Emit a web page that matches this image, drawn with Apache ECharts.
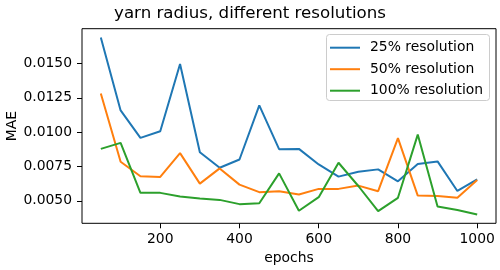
<!DOCTYPE html>
<html><head><meta charset="utf-8">
<script src="https://cdn.jsdelivr.net/npm/echarts@6/dist/echarts.min.js"></script>
<style>html,body{margin:0;padding:0;background:#fff}#c{width:500px;height:270px}</style>
</head><body><div id="c"></div>
<script>
const epochs = [50,100,150,200,250,300,350,400,450,500,550,600,650,700,750,800,850,900,950,1000];
const res25 = [0.01688,0.01158,0.00958,0.01006,0.01496,0.00854,0.00741,0.00801,0.01194,0.00876,0.00878,0.00765,0.00676,0.00712,0.00729,0.00642,0.00768,0.00787,0.00572,0.00657];
const res50 = [0.01281,0.00784,0.00679,0.00674,0.00847,0.00625,0.00736,0.00618,0.00563,0.00570,0.00546,0.00587,0.00587,0.00611,0.00570,0.00956,0.00538,0.00536,0.00522,0.00652];
const res100 = [0.00878,0.00922,0.00558,0.00558,0.00531,0.00517,0.00507,0.00476,0.00483,0.00700,0.00428,0.00527,0.00777,0.00608,0.00425,0.00522,0.00982,0.00459,0.00433,0.00401];
const seriesNames = ['25% resolution','50% resolution','100% resolution'];
const xTicks = [200,400,600,800,1000];
const yTicks = [0.005,0.0075,0.01,0.0125,0.015];
const colors = ['#1f77b4','#ff7f0e','#2ca02c'];
const titleText = 'yarn radius, different resolutions';

const FONT = 'DejaVu Sans';
const FS = 13.9;
const allVals = res25.concat(res50, res100);
const yMinD = Math.min(...allVals), yMaxD = Math.max(...allVals);
const yPad = (yMaxD - yMinD) * 0.05;
const xPad = (epochs[epochs.length-1] - epochs[0]) * 0.05;

const chart = echarts.init(document.getElementById('c'), null, {renderer:'canvas'});
const mk = (name, vals, i) => ({
  name, type:'line', data: epochs.map((e,k)=>[e, vals[k]]),
  symbol:'none', lineStyle:{color:colors[i], width:2}, itemStyle:{color:colors[i]},
  emphasis:{disabled:true}, animation:false, z: 2 + i
});
chart.setOption({
  animation:false,
  backgroundColor:'#fff',
  title:{text:titleText, left:'center', top:0, textStyle:{fontFamily:FONT, fontSize:16.67, fontWeight:'normal', color:'#000'}},
  grid:{left:82, right:4, top:28.7, bottom:46.7, containLabel:false, outerBoundsMode:'none', show:true, borderColor:'#000', borderWidth:1, backgroundColor:'transparent'},
  graphic:[{
    type:'rect', z:20, shape:{x:326.5, y:34.5, width:163, height:66, r:3},
    style:{fill:'rgba(255,255,255,0.8)', stroke:'#cccccc', lineWidth:1}
  }],
  legend:{
    orient:'vertical', left:326, top:34.7, z:30,
    data: seriesNames,
    icon:'rect', itemWidth:30, itemHeight:2, itemGap:7.5,
    padding:[6,7,4,4],
    textStyle:{fontFamily:FONT, fontSize:FS, color:'#000', lineHeight:14, padding:[0,0,0,5]},
    selectedMode:false
  },
  xAxis:{
    type:'value', min: epochs[0]-xPad, max: epochs[epochs.length-1]+xPad,
    name:'epochs', nameLocation:'middle', nameGap:28, nameMoveOverlap:false,
    nameTextStyle:{fontFamily:FONT, fontSize:FS, color:'#000'},
    axisLine:{show:false}, splitLine:{show:false},
    axisTick:{show:true, length:5, lineStyle:{color:'#000', width:1}, customValues:xTicks},
    axisLabel:{fontFamily:FONT, fontSize:FS, color:'#000', margin:9, customValues:xTicks, formatter:v=>String(v)}
  },
  yAxis:{
    type:'value', min: yMinD - yPad, max: yMaxD + yPad,
    name:'MAE', nameLocation:'middle', nameGap:63, nameRotate:90, nameMoveOverlap:false,
    nameTextStyle:{fontFamily:FONT, fontSize:FS, color:'#000'},
    axisLine:{show:false}, splitLine:{show:false},
    axisTick:{show:true, length:5, lineStyle:{color:'#000', width:1}, customValues:yTicks},
    axisLabel:{fontFamily:FONT, fontSize:FS, color:'#000', margin:10, customValues:yTicks, formatter:v=>v.toFixed(4)}
  },
  series:[mk(seriesNames[0],res25,0), mk(seriesNames[1],res50,1), mk(seriesNames[2],res100,2)]
});
</script></body></html>
